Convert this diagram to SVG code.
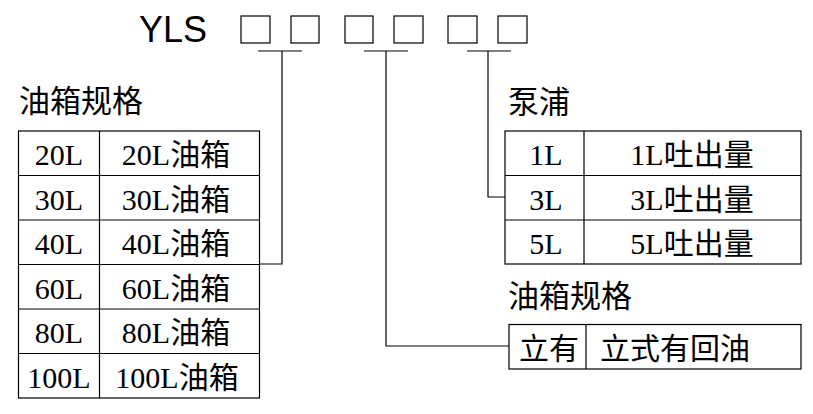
<svg xmlns="http://www.w3.org/2000/svg" width="813" height="414" viewBox="0 0 813 414">
<style>
.bg{fill:#fff}
.box{fill:none;stroke:#000;stroke-width:1.2}
.ln{fill:none;stroke:#000;stroke-width:1.2}
.t{font-family:"Liberation Serif","Noto Sans CJK SC",serif;font-size:30px;fill:#000;text-anchor:middle}
.h{font-family:"Noto Sans CJK SC","Liberation Serif",sans-serif;font-size:31px;fill:#000}
.code{font-family:"Liberation Sans",Arial,sans-serif;font-size:36px;fill:#000}
</style>
<rect class="bg" x="0" y="0" width="813" height="414"/>
<g id="code">
<text class="code" x="139" y="42">YLS</text>
<rect class="box" x="241" y="16" width="29" height="27"/>
<rect class="box" x="291" y="16" width="28" height="27"/>
<rect class="box" x="345" y="16" width="28" height="27"/>
<rect class="box" x="394" y="16" width="29" height="27"/>
<rect class="box" x="448" y="16" width="29" height="27"/>
<rect class="box" x="498" y="16" width="29" height="27"/>
</g>
<g id="connectors">
<path class="ln" d="M258,51H302M282,51V264H259"/>
<path class="ln" d="M364,51H408M386,51V346H509"/>
<path class="ln" d="M467,51H511M488,51V197H505"/>
</g>
<g id="tank-table">
<text class="h" x="19" y="112">油箱规格</text>
<rect class="box" x="18.5" y="131" width="241" height="267"/>
<path class="ln" d="M99.5,131V398M18.5,175.5H259.5M18.5,220H259.5M18.5,264.5H259.5M18.5,309H259.5M18.5,353.5H259.5"/>
<text class="t" x="59" y="165">20L</text><text class="t" x="176" y="165">20L油箱</text>
<text class="t" x="59" y="209.5">30L</text><text class="t" x="176" y="209.5">30L油箱</text>
<text class="t" x="59" y="254">40L</text><text class="t" x="176" y="254">40L油箱</text>
<text class="t" x="59" y="298.5">60L</text><text class="t" x="176" y="298.5">60L油箱</text>
<text class="t" x="59" y="343">80L</text><text class="t" x="176" y="343">80L油箱</text>
<text class="t" x="59" y="387.5">100L</text><text class="t" x="177" y="387.5">100L油箱</text>
</g>
<g id="pump-table">
<text class="h" x="508" y="113">泵浦</text>
<rect class="box" x="505" y="131" width="296" height="133"/>
<path class="ln" d="M584,131V264M505,175.5H801M505,220H801"/>
<text class="t" x="546" y="165">1L</text><text class="t" x="692" y="165">1L吐出量</text>
<text class="t" x="546" y="209.5">3L</text><text class="t" x="692" y="209.5">3L吐出量</text>
<text class="t" x="546" y="254">5L</text><text class="t" x="692" y="254">5L吐出量</text>
</g>
<g id="type-table">
<text class="h" x="508" y="307">油箱规格</text>
<rect class="box" x="509" y="324.5" width="292" height="44.5"/>
<path class="ln" d="M586,324.5V369"/>
<text class="t" x="549" y="358.5">立有</text>
<text class="t" x="675" y="358.5">立式有回油</text>
</g>
</svg>
